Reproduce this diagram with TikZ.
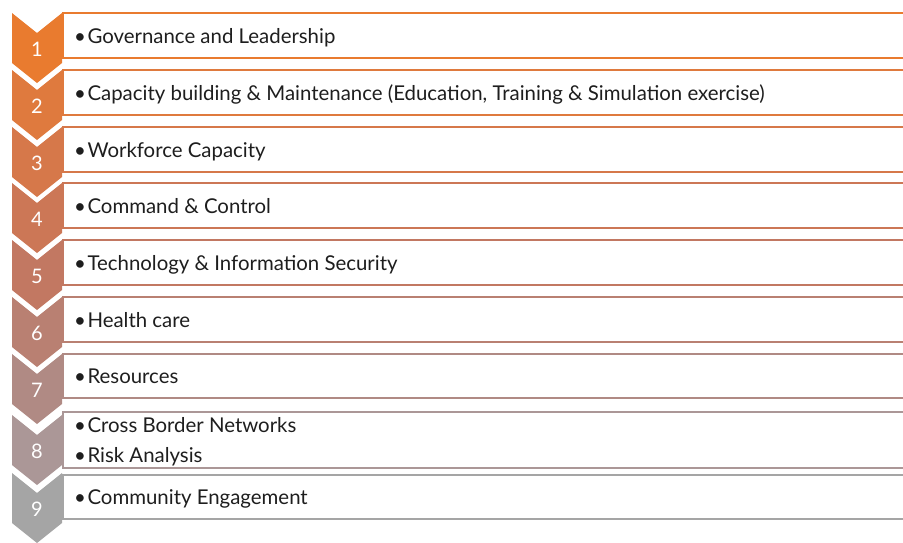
\documentclass[tikz,border=0pt]{standalone}
\usepackage{fontspec}
\setmainfont{Lato}
\definecolor{c1}{HTML}{E97B2F}
\definecolor{c2}{HTML}{DF7A3E}
\definecolor{c3}{HTML}{D6784A}
\definecolor{c4}{HTML}{CC7756}
\definecolor{c5}{HTML}{C27862}
\definecolor{c6}{HTML}{B98072}
\definecolor{c7}{HTML}{B08A84}
\definecolor{c8}{HTML}{AB9797}
\definecolor{c9}{HTML}{A5A5A5}
\definecolor{txt}{HTML}{1E1E1E}
\newcommand\itembul{\textbullet\kern1.5pt}
\begin{document}
\begin{tikzpicture}[x=1pt,y=-1pt,
  numtext/.style={text=white, font=\fontsize{20}{20}\selectfont, inner sep=0},
  itemtext/.style={anchor=base west, inner sep=0, font=\fontsize{20.4}{22}\selectfont, text=txt},
  boxline/.style={line width=1.8pt}]
\useasboundingbox (0,0) rectangle (903,542);
\fill[white] (0,0) rectangle (903,542);
% chevrons: index / top
\foreach \i/\t in {1/13,2/70,3/127,4/183,5/240,6/297,7/354,8/415,9/473}{
  \fill[c\i] (12,\t) -- (37,\t+20) -- (62,\t) -- (62,\t+50) -- (37,\t+70) -- (12,\t+50) -- cycle;
  \node[numtext] (n\i) at (37,\t+36) {\i};
}
% boxes: index / top / bottom
\foreach \i/\t/\b in {1/13/58,2/70/115,3/127/172,4/183/228,5/240/285,6/297/342,7/354/398,8/412/468,9/475/519}{
  \draw[boxline, c\i] (915,\t) -- (63,\t) -- (63,\b) -- (915,\b);
}
\node[itemtext] (t1) at (74,43) {\itembul Governance and Leadership};
\node[itemtext] (t2) at (74,100) {\itembul Capacity building \& Maintenance (Education, Training \& Simulation exercise)};
\node[itemtext] (t3) at (74,157) {\itembul Workforce Capacity};
\node[itemtext] (t4) at (74,213) {\itembul Command \& Control};
\node[itemtext] (t5) at (74,270) {\itembul Technology \& Information Security};
\node[itemtext] (t6) at (74,327) {\itembul Health care};
\node[itemtext] (t7) at (74,383) {\itembul Resources};
\node[itemtext] (t8a) at (74,432) {\itembul Cross Border Networks};
\node[itemtext] (t8b) at (74,462) {\itembul Risk Analysis};
\node[itemtext] (t9) at (74,504) {\itembul Community Engagement};
\end{tikzpicture}
\end{document}
